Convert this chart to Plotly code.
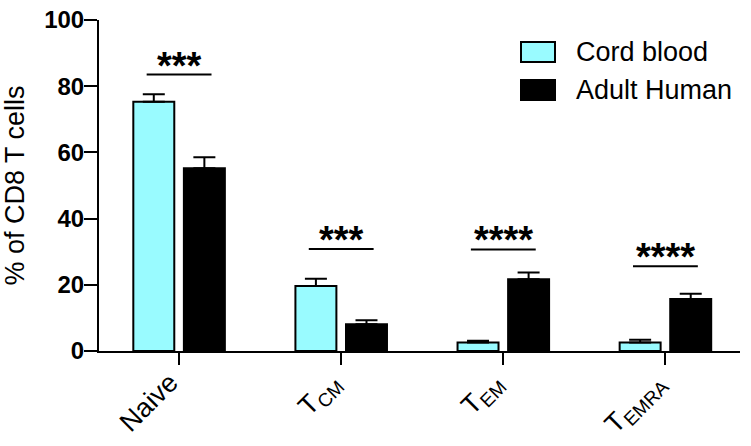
import plotly.graph_objects as go

categories = ["Naive", "T<sub>CM</sub>", "T<sub>EM</sub>", "T<sub>EMRA</sub>"]
cord_blood = [75.3, 19.6, 2.6, 2.6]
cord_blood_err = [2.3, 2.2, 0.5, 0.8]
adult_human = [55.2, 8.1, 21.7, 15.7]
adult_human_err = [3.3, 1.2, 2.0, 1.6]
sig_y = [83.5, 30.8, 30.7, 25.6]
sig_labels = ["***", "***", "****", "****"]
yticks = [0, 20, 40, 60, 80, 100]

FONT = "Liberation Sans, Arial, sans-serif"
CYAN = "#99FBFF"
xpos = list(range(len(categories)))

fig = go.Figure()
fig.add_trace(go.Bar(
    x=xpos, y=cord_blood, name="Cord blood",
    marker=dict(color=CYAN, line=dict(color="black", width=2)),
    error_y=dict(type="data", symmetric=False, array=cord_blood_err,
                 arrayminus=[0] * len(cord_blood), color="black",
                 thickness=2, width=11),
))
fig.add_trace(go.Bar(
    x=xpos, y=adult_human, name="Adult Human",
    marker=dict(color="black", line=dict(color="black", width=2)),
    error_y=dict(type="data", symmetric=False, array=adult_human_err,
                 arrayminus=[0] * len(adult_human), color="black",
                 thickness=2, width=11),
))

shapes = []
annotations = []
for i, (yv, lab) in enumerate(zip(sig_y, sig_labels)):
    shapes.append(dict(type="line", xref="x", yref="y", x0=i - 0.2, x1=i + 0.2,
                       y0=yv, y1=yv, line=dict(color="black", width=2)))
    annotations.append(dict(x=i, y=yv, xref="x", yref="y", text="<b>" + lab + "</b>",
                            showarrow=False, yanchor="bottom", yshift=-14,
                            font=dict(family=FONT, size=38, color="black")))

# manual legend (plot area: 641 x 331 px)
legend_items = [("Cord blood", CYAN), ("Adult Human", "black")]
for k, (name, col) in enumerate(legend_items):
    yc = 52 + 38 * k
    shapes.append(dict(type="rect", xref="paper", yref="paper",
                       x0=(521 - 99) / 641, x1=(555 - 99) / 641,
                       y0=(351 - (yc + 10)) / 331, y1=(351 - (yc - 10)) / 331,
                       fillcolor=col, line=dict(color="black", width=2)))
    annotations.append(dict(x=(574 - 99) / 641, y=(351 - yc) / 331, xref="paper", yref="paper",
                            text=name, showarrow=False, xanchor="left", yanchor="middle",
                            font=dict(family=FONT, size=27, color="black")))

fig.update_layout(
    width=751, height=446,
    margin=dict(l=99, r=11, t=20, b=95, autoexpand=False),
    paper_bgcolor="white", plot_bgcolor="white",
    barmode="group", bargap=0.376, bargroupgap=0.19,
    showlegend=False,
    shapes=shapes, annotations=annotations,
    font=dict(family=FONT, color="black"),
)
fig.update_xaxes(
    range=[-0.494, 3.46], tickvals=xpos, ticktext=categories, tickangle=-45,
    showline=True, linecolor="black", linewidth=2, showgrid=False, zeroline=False,
    ticks="outside", ticklen=12, tickwidth=2, tickcolor="black", automargin=False,
    ticklabelstandoff=-9, ticklabelshift=-9, ticklabeloverflow="allow",
    tickfont=dict(family=FONT, size=27, color="black"),
)
fig.update_yaxes(
    range=[0, 100], tickvals=yticks, ticktext=["<b>%d</b>" % v for v in yticks],
    showline=True, linecolor="black", linewidth=2, showgrid=False, zeroline=False,
    ticks="outside", ticklen=13, tickwidth=2, tickcolor="black", automargin=False,
    ticklabelstandoff=-5, ticklabeloverflow="allow",
    tickfont=dict(family=FONT, size=24, color="black"),
    title=dict(text="% of CD8 T cells", font=dict(family=FONT, size=27, color="black"), standoff=14),
)

fig.write_html("out.html", config={"displayModeBar": False},
               post_script="document.body.style.margin='0';")
